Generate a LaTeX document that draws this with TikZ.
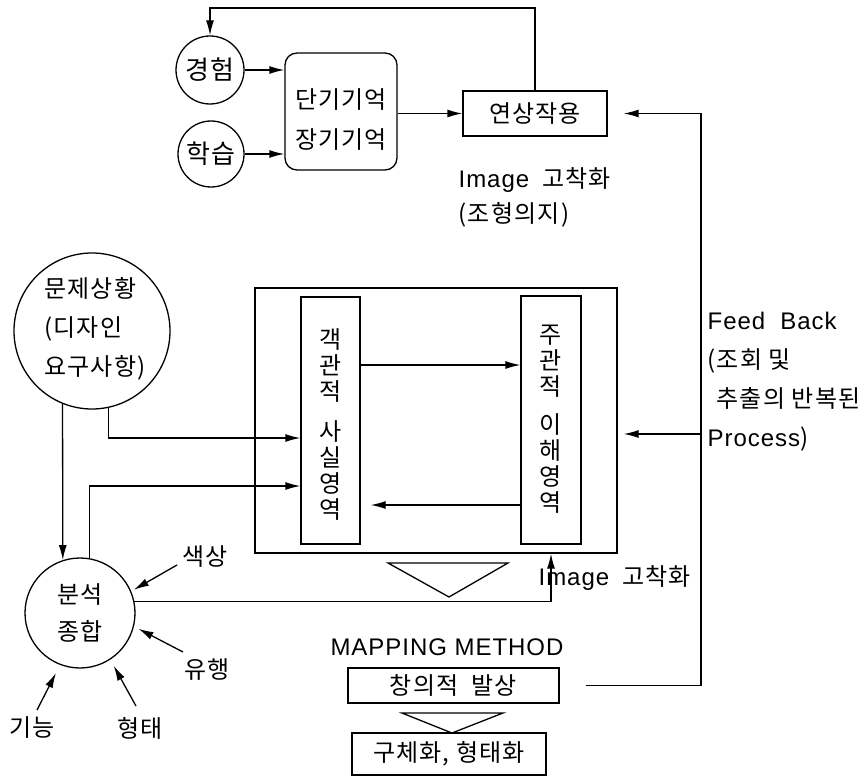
\documentclass[tikz,border=0pt]{standalone}
\usepackage{fontspec}
\setmainfont[LetterSpace=5]{Noto Sans CJK KR}
\newfontfamily\lat[LetterSpace=4]{Liberation Sans}
\usetikzlibrary{arrows.meta,calc}
\begin{document}
\begin{tikzpicture}[x=1pt,y=-1pt,
  line width=1.3pt,
  font=\fontsize{24}{38}\selectfont,
  arr/.style={-{Latex[length=15pt,width=8pt]}},
  box/.style={draw, rectangle, inner sep=0pt},
  ring/.style={draw, circle, inner sep=0pt},
  lbl/.style={inner sep=0pt},
  vcol/.style={inner sep=0pt, align=center, font=\fontsize{24}{26}\selectfont}
]
\useasboundingbox (0,0) rectangle (865,778);

% top group
\node[ring, minimum size=68pt, font=\fontsize{26}{30}\selectfont] (kyung) at (210,70) {경험};
\node[ring, minimum size=66pt, font=\fontsize{26}{30}\selectfont] (hak) at (211,154) {학습};
\node[box, rounded corners=12pt, minimum width=112pt, minimum height=117pt] (mem) at (341,111.5) {};
\node[lbl, align=center, font=\fontsize{24}{40}\selectfont] (memtxt) at (341,120) {단기기억\\장기기억};
\node[box, minimum width=144pt, minimum height=45pt] (assoc) at (535,113.5) {연상작용};
\node[lbl, anchor=west] (img1) at (458,180) {{\lat Image}\ \ 고착화};
\node[lbl, anchor=west] (img2) at (458,215) {(조형의지)};

% problem circle
\node[ring, minimum size=156pt] (prob) at (92,331) {};
\node[lbl, align=left, font=\fontsize{24}{39}\selectfont] (probtxt) at (95,329) {문제상황\\(디자인\\요구사항)};

% big box and columns
\node[box, minimum width=362pt, minimum height=265pt] (big) at (436,420.5) {};
\node[box, minimum width=59pt, minimum height=247pt] (obj) at (330.5,420.5) {};
\node[vcol] (objtxt) at (331,425) {객\\관\\적\\[14pt]사\\실\\영\\역};
\node[box, minimum width=60pt, minimum height=248pt] (subj) at (551,420) {};
\node[vcol] (subjtxt) at (551,419) {주\\관\\적\\[12pt]이\\해\\영\\역};

% feedback text
\node[lbl, anchor=west, align=left, font=\fontsize{24}{39}\selectfont] (fb) at (707,381.5)
  {{\lat Feed\ \ Back}\\(조회 및\\\hspace*{9pt}추출의 반복된\\{\lat Process})};

% analysis circle
\node[ring, minimum size=110pt] (ana) at (80,613) {};
\node[lbl, align=center, font=\fontsize{24}{37}\selectfont] (anatxt) at (80,613) {분석\\종합};
\node[lbl] (saek) at (205,557) {색상};
\node[lbl] (yuh) at (207,670) {유행};
\node[lbl] (hyeong) at (140,728) {형태};
\node[lbl] (gin) at (32,728) {기능};

% lower part
\draw (388,563) -- (508,563) -- (449,597) -- cycle;
\node[lbl, anchor=west] (img3) at (538,578) {{\lat Image}\ \ 고착화};
\node[lbl, font=\lat\fontsize{24}{28}\selectfont] (map) at (447,647) {MAPPING\ METHOD};
\node[box, minimum width=211pt, minimum height=35pt] (creat) at (453.5,685.5) {창의적\ \ 발상};
\draw (402,713) -- (503,713) -- (452,733) -- cycle;
\node[box, minimum width=194pt, minimum height=42pt] (concr) at (449,754) {구체화,\ 형태화};

% coordinates
\coordinate (toppt) at (370,8);
\coordinate (fbtop) at (701,113.5);
\coordinate (fbmid) at (701,434);
\coordinate (yA) at (0,365);
\coordinate (yB) at (0,505);
\coordinate (yC) at (0,438);
\coordinate (yD) at (0,486);
\coordinate (imgx) at (551,0);

% connectors
\draw[arr] (assoc.north) |- (toppt) -| (kyung.north);
\draw[arr] (kyung.east) -- (kyung.east -| mem.west);
\draw[arr] (hak.east) -- (hak.east -| mem.west);
\draw[arr] (mem.east |- assoc.west) -- (assoc.west);
\draw[arr] ($(creat.east)+(26,0)$) -| (fbtop) -- ($(assoc.east)+(16,0)$);
\draw[arr] (fbmid) -- ($(fbmid -| big.east)+(6,0)$);
\draw[arr] (obj.east |- yA) -- (subj.west |- yA);
\draw[arr] (subj.west |- yB) -- ($(obj.east |- yB)+(10,0)$);
\draw[arr] (prob.-78) |- (obj.west |- yC);
\draw[arr] (prob.-112) -- (ana.108);
\draw[arr] (ana.80) |- (obj.west |- yD);
\draw[arr] (ana.12) -| (imgx |- big.south);
\draw[arr, shorten >=3pt] ($(saek)+(-28,8)$) -- (ana.23);
\draw[arr, shorten >=5pt] ($(yuh)+(-24,-18)$) -- (ana.-14);
\draw[arr, shorten >=7pt] ($(hyeong)+(-4,-22)$) -- (ana.-57);
\draw[arr, shorten >=9pt] ($(gin)+(5,-18)$) -- (ana.-111);
\end{tikzpicture}
\end{document}
